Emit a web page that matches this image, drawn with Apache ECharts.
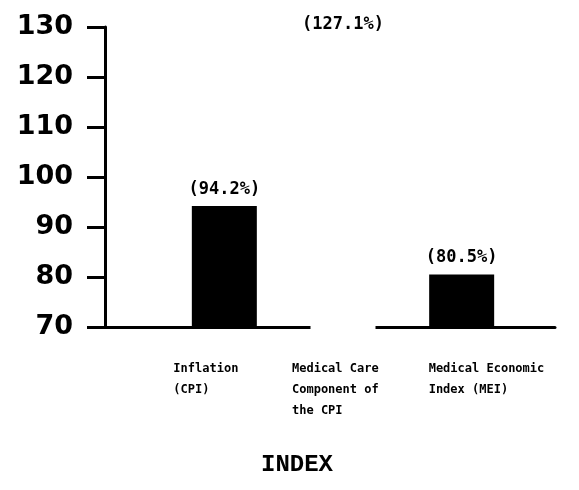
<!DOCTYPE html>
<html>
<head>
<meta charset="utf-8">
<script src="https://cdn.jsdelivr.net/npm/echarts@6/dist/echarts.min.js"></script>
<style>html,body{margin:0;padding:0;background:#fff}#c{width:579px;height:490px}</style>
</head>
<body>
<div id="c"></div>
<script>
const categories = ['Inflation\n(CPI)', 'Medical Care\nComponent of\nthe CPI', 'Medical Economic\nIndex (MEI)'];
const values = [94.2, 127.1, 80.5];
const yMin = 70, yMax = 130, yStep = 10;
const axisTitle = 'INDEX';

const lblBase = { align: 'left', fontFamily: 'DejaVu Sans Mono', fontWeight: 'bold', fontSize: 12, lineHeight: 21, color: '#000' };

const chart = echarts.init(document.getElementById('c'));
chart.setOption({
  backgroundColor: '#fff',
  animation: false,
  title: {
    text: axisTitle, left: 256, top: 448,
    textStyle: { fontFamily: 'Liberation Mono', fontWeight: 'bold', fontSize: 24, color: '#000' }
  },
  grid: [
    { left: 165, right: 58, top: 27, bottom: 163 },
    { left: 105, right: 24, top: 27, bottom: 163 }
  ],
  xAxis: [
    {
      type: 'category', gridIndex: 0, data: categories,
      axisLine: { show: false }, axisTick: { show: false },
      axisLabel: {
        interval: 0, margin: 31,
        formatter: (v, i) => v.split('\n').map(s => '{' + (i === 2 ? 'b' : 'a') + '|' + s + '}').join('\n'),
        rich: {
          a: Object.assign({ width: 102 }, lblBase),
          b: Object.assign({ width: 66 }, lblBase)
        }
      }
    },
    {
      type: 'value', gridIndex: 1, min: 0, max: 1,
      axisLine: { show: true, lineStyle: { color: '#000', width: 3 } },
      axisTick: { show: false }, axisLabel: { show: false }, splitLine: { show: false }
    }
  ],
  yAxis: [
    { type: 'value', gridIndex: 0, min: yMin, max: yMax, interval: yStep, show: false },
    {
      type: 'value', gridIndex: 1, min: yMin, max: yMax, interval: yStep,
      axisLine: { show: true, lineStyle: { color: '#000', width: 3 } },
      axisTick: { show: true, length: 18, lineStyle: { color: '#000', width: 3 } },
      axisLabel: { margin: 32, fontFamily: 'DejaVu Sans', fontWeight: 'bold', fontSize: 27, color: '#000' },
      splitLine: { show: false }
    }
  ],
  series: [{
    type: 'bar', xAxisIndex: 0, yAxisIndex: 0, barWidth: 65, z: 5,
    data: values.map((v, i) => i === 1
      ? { value: v, itemStyle: { color: '#fff', borderColor: '#fff', borderWidth: 4 } }
      : v),
    itemStyle: { color: '#000' },
    label: {
      show: true, position: 'top', distance: 8,
      formatter: p => '(' + p.value + '%)',
      fontFamily: 'DejaVu Sans Mono', fontWeight: 'bold', fontSize: 17, color: '#000'
    }
  }]
});
</script>
</body>
</html>
